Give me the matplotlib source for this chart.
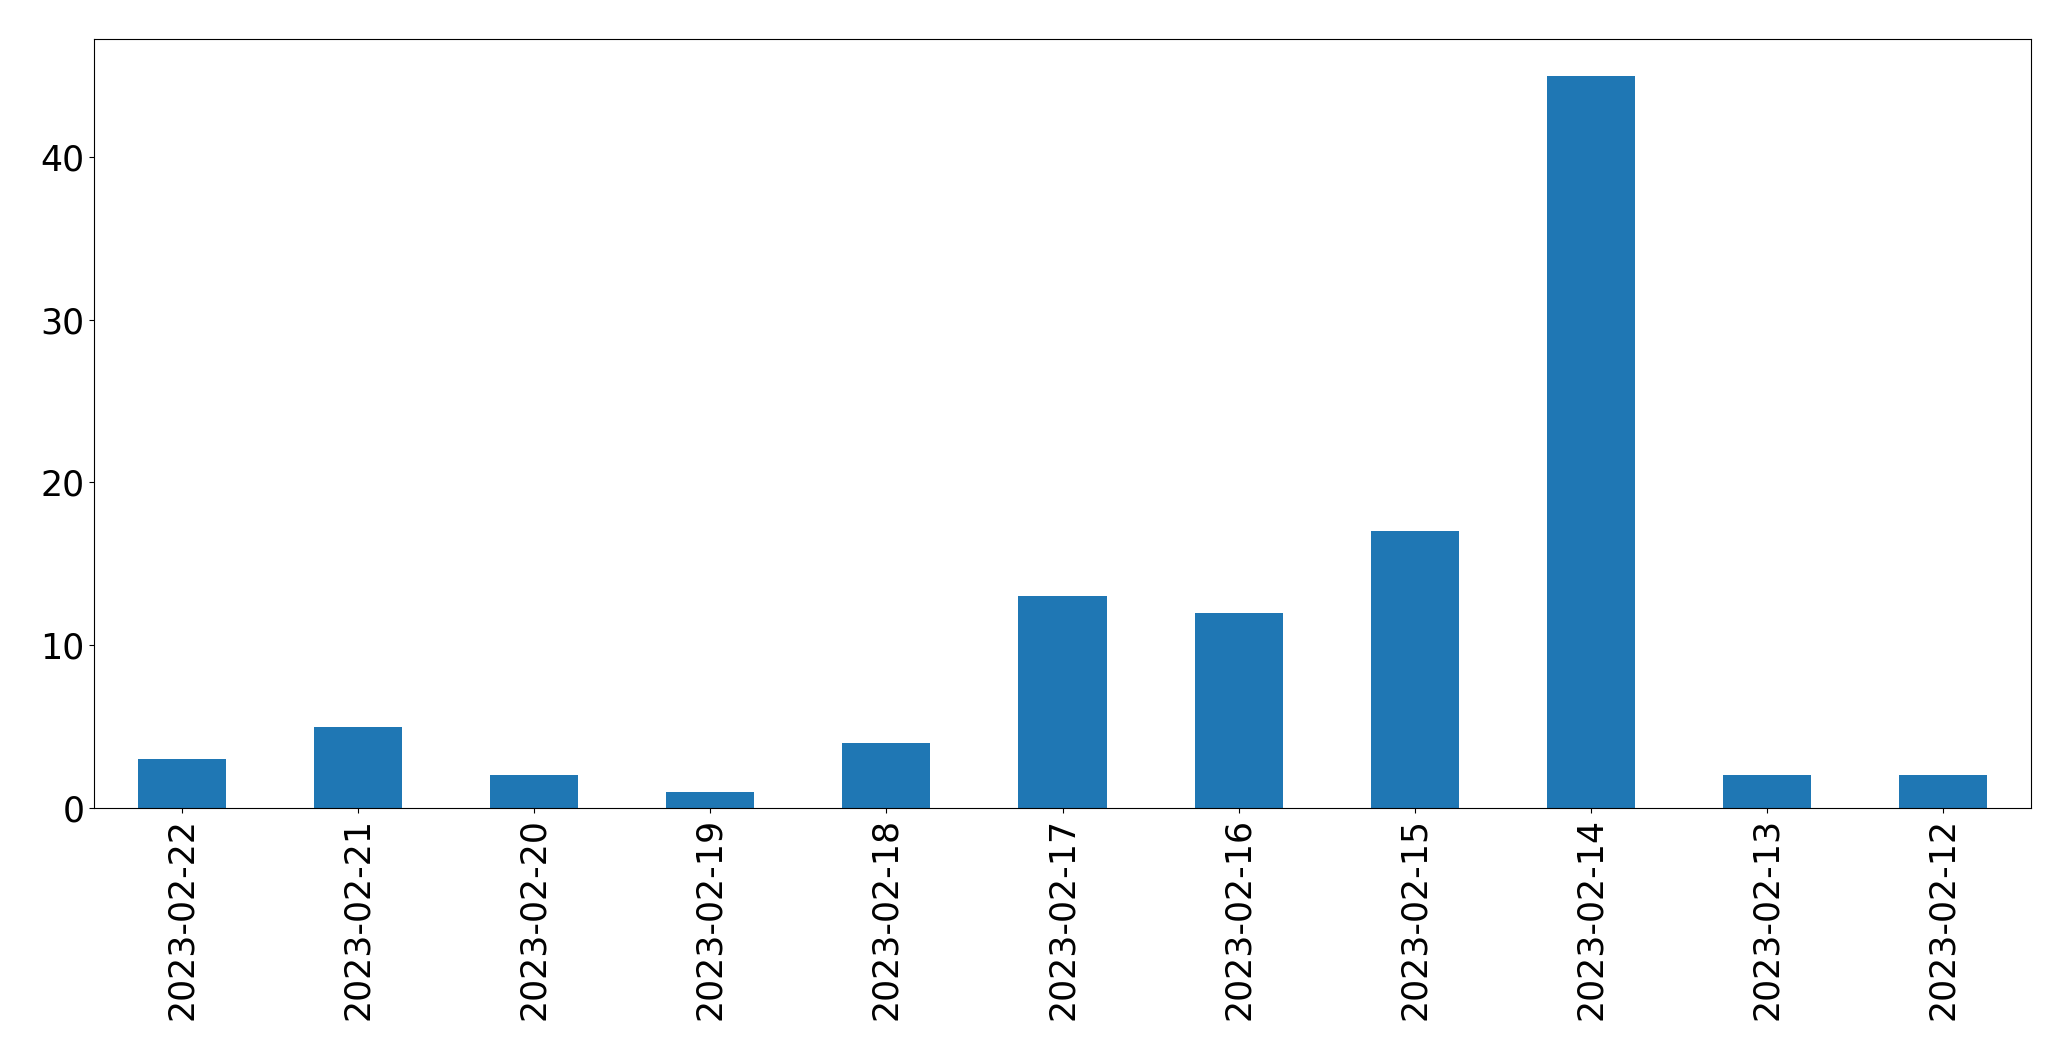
import matplotlib
matplotlib.use("Agg")
import matplotlib.pyplot as plt

dates = ["2023-02-22", "2023-02-21", "2023-02-20", "2023-02-19", "2023-02-18",
         "2023-02-17", "2023-02-16", "2023-02-15", "2023-02-14", "2023-02-13",
         "2023-02-12"]
counts = [3, 5, 2, 1, 4, 13, 12, 17, 45, 2, 2]

W, H = 2071, 1061
fig = plt.figure(figsize=(W / 100, H / 100), dpi=100)
ax = fig.add_axes([94 / W, 1 - 808 / H, (2031 - 94) / W, (808 - 39) / H])

x = list(range(len(dates)))
ax.bar(x, counts, width=0.5, color="#1f77b4")
ax.set_xlim(-0.5, len(dates) - 0.5)
ax.set_ylim(0, max(counts) * 1.05)
ax.set_xticks(x)
ax.set_xticklabels(dates, rotation=90)
ax.set_yticks([0, 10, 20, 30, 40])
ax.tick_params(axis="both", labelsize=25)

fig.savefig("out.png", dpi=100)
